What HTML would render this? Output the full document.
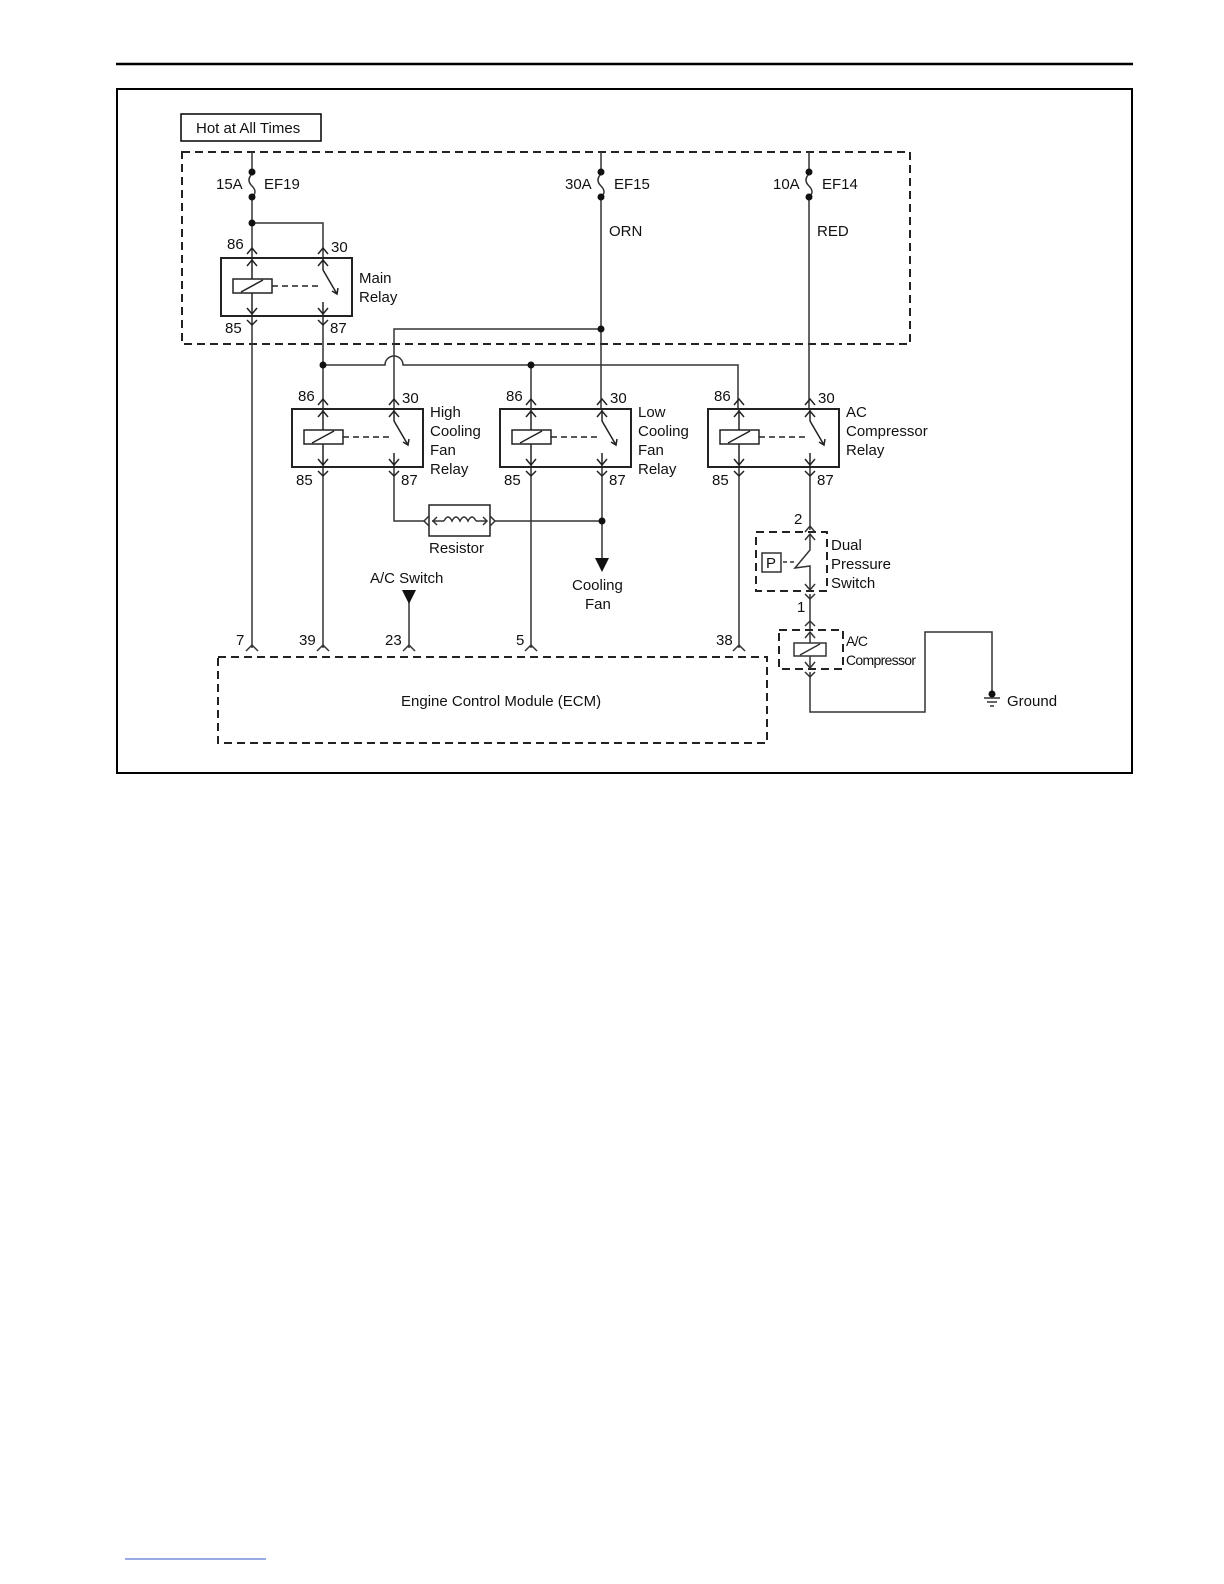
<!DOCTYPE html>
<html><head><meta charset="utf-8"><style>
html,body{margin:0;padding:0;background:#fff;width:1224px;height:1584px;overflow:hidden;}
svg{position:absolute;left:0;top:0;display:block;font-family:"Liberation Sans",Arial,sans-serif;}
text{font-size:15px;fill:#111;}
</style></head><body>
<svg width="1224" height="1584" viewBox="0 0 1224 1584" xmlns="http://www.w3.org/2000/svg">
<defs>
<g id="relay" fill="none" stroke="#222" stroke-width="1.5">
<rect x="0" y="0" width="131" height="58" stroke-width="2"/>
<line x1="31" y1="0" x2="31" y2="58"/>
<polyline points="26,8 31,2 36,8"/>
<polyline points="26,50 31,56 36,50"/>
<rect x="12" y="21" width="39" height="14" fill="#fff"/>
<line x1="20" y1="34" x2="42" y2="22"/>
<line x1="51" y1="28" x2="100" y2="28" stroke-dasharray="6,4"/>
<line x1="102" y1="0" x2="102" y2="12"/>
<polyline points="102,12 116,36"/>
<polyline points="111,33 116,36 117,30"/>
<line x1="102" y1="44" x2="102" y2="58"/>
<polyline points="26,-4 31,-10 36,-4"/>
<polyline points="97,-4 102,-10 107,-4"/>
<polyline points="97,8 102,2 107,8"/>
<polyline points="97,50 102,56 107,50"/>
<polyline points="26,62 31,67 36,62"/>
<polyline points="97,62 102,67 107,62"/>
</g>
</defs>
<line x1="116" y1="64" x2="1133" y2="64" stroke="#000" stroke-width="2.5"/>
<rect x="117" y="89" width="1015" height="684" fill="none" stroke="#000" stroke-width="2"/>
<rect x="181" y="114" width="140" height="27" fill="none" stroke="#000" stroke-width="1.5"/>
<text x="196" y="133">Hot at All Times</text>
<g fill="none" stroke="#222" stroke-width="2" stroke-dasharray="8,5">
<rect x="182" y="152" width="728" height="192"/>
<rect x="218" y="657" width="549" height="86"/>
<rect x="756" y="532" width="71" height="59"/>
<rect x="779" y="630" width="64" height="39"/>
</g>
<g fill="none" stroke="#333" stroke-width="1.5">
<line x1="252" y1="152" x2="252" y2="172"/><path d="M252,174 q-6,6 0,12 q6,6 0,11"/>
<line x1="601" y1="152" x2="601" y2="172"/><path d="M601,174 q-6,6 0,12 q6,6 0,11"/>
<line x1="809" y1="152" x2="809" y2="172"/><path d="M809,174 q-6,6 0,12 q6,6 0,11"/>
<line x1="252" y1="197" x2="252" y2="258"/>
<polyline points="252,223 323,223 323,258"/>
<line x1="252" y1="316" x2="252" y2="648"/>
<line x1="323" y1="316" x2="323" y2="409"/>
<line x1="601" y1="197" x2="601" y2="409"/>
<polyline points="601,329 394,329 394,409"/>
<path d="M323,365 H385 A9,9 0 0 1 403,365 H738 V409"/>
<line x1="531" y1="365" x2="531" y2="409"/>
<line x1="809" y1="197" x2="809" y2="409"/>
<line x1="323" y1="467" x2="323" y2="648"/>
<polyline points="394,467 394,521 425,521"/>
<line x1="495" y1="521" x2="602" y2="521"/>
<line x1="602" y1="467" x2="602" y2="560"/>
<line x1="531" y1="467" x2="531" y2="648"/>
<line x1="739" y1="467" x2="739" y2="648"/>
<line x1="409" y1="600" x2="409" y2="648"/>
<rect x="429" y="505" width="61" height="31" stroke="#222"/>
<polyline points="429,516 424,521 429,526"/><polyline points="490,516 495,521 490,526"/>
<line x1="432" y1="521" x2="444" y2="521"/><line x1="476" y1="521" x2="487" y2="521"/>
<polyline points="437,517 433,521 437,525"/><polyline points="483,517 487,521 483,525"/>
<path d="M444,521 q4,-8 8,0 q4,-8 8,0 q4,-8 8,0 q4,-8 8,0"/>
<line x1="810" y1="467" x2="810" y2="530"/>
<polyline points="805,532 810,526 815,532"/>
<polyline points="805,540 810,534 815,540"/>
<polyline points="810,534 810,550 795,568 810,566 810,590"/>
<line x1="783" y1="562" x2="795" y2="562" stroke-dasharray="4,3"/>
<rect x="762" y="553" width="19" height="19"/>
<polyline points="805,584 810,590 815,584"/>
<polyline points="805,594 810,599 815,594"/>
<line x1="810" y1="594" x2="810" y2="630"/>
<polyline points="805,626 810,621 815,626"/>
<polyline points="805,638 810,632 815,638"/>
<line x1="810" y1="632" x2="810" y2="669"/>
<rect x="794" y="643" width="32" height="13" fill="#fff"/>
<line x1="800" y1="655" x2="820" y2="644"/>
<polyline points="805,662 810,668 815,662"/>
<polyline points="805,672 810,677 815,672"/>
<polyline points="810,672 810,712 925,712 925,632 992,632 992,696"/>
<line x1="984" y1="698" x2="1000" y2="698"/><line x1="987" y1="702" x2="997" y2="702"/><line x1="990" y1="706" x2="994" y2="706"/>
<polyline points="246,651 252,645 258,651"/>
<polyline points="317,651 323,645 329,651"/>
<polyline points="403,651 409,645 415,651"/>
<polyline points="525,651 531,645 537,651"/>
<polyline points="733,651 739,645 745,651"/>
</g>
<g fill="#111">
<circle cx="252" cy="172" r="3.5"/><circle cx="252" cy="197" r="3.5"/>
<circle cx="601" cy="172" r="3.5"/><circle cx="601" cy="197" r="3.5"/>
<circle cx="809" cy="172" r="3.5"/><circle cx="809" cy="197" r="3.5"/>
<circle cx="252" cy="223" r="3.5"/><circle cx="601" cy="329" r="3.5"/>
<circle cx="323" cy="365" r="3.5"/><circle cx="531" cy="365" r="3.5"/>
<circle cx="602" cy="521" r="3.5"/><circle cx="992" cy="694" r="3.5"/>
<polygon points="595,558 609,558 602,572"/>
<polygon points="402,590 416,590 409,604"/>
</g>
<use href="#relay" x="221" y="258"/>
<use href="#relay" x="292" y="409"/>
<use href="#relay" x="500" y="409"/>
<use href="#relay" x="708" y="409"/>
<text x="216" y="189">15A</text><text x="264" y="189">EF19</text>
<text x="565" y="189">30A</text><text x="614" y="189">EF15</text>
<text x="773" y="189">10A</text><text x="822" y="189">EF14</text>
<text x="609" y="236">ORN</text><text x="817" y="236">RED</text>
<text x="227" y="249">86</text><text x="331" y="252">30</text>
<text x="359" y="283">Main</text><text x="359" y="302">Relay</text>
<text x="225" y="333">85</text><text x="330" y="333">87</text>
<text x="298" y="401">86</text><text x="402" y="403">30</text>
<text x="430" y="417">High</text><text x="430" y="436">Cooling</text><text x="430" y="455">Fan</text><text x="430" y="474">Relay</text>
<text x="296" y="485">85</text><text x="401" y="485">87</text>
<text x="506" y="401">86</text><text x="610" y="403">30</text>
<text x="638" y="417">Low</text><text x="638" y="436">Cooling</text><text x="638" y="455">Fan</text><text x="638" y="474">Relay</text>
<text x="504" y="485">85</text><text x="609" y="485">87</text>
<text x="714" y="401">86</text><text x="818" y="403">30</text>
<text x="846" y="417">AC</text><text x="846" y="436">Compressor</text><text x="846" y="455">Relay</text>
<text x="712" y="485">85</text><text x="817" y="485">87</text>
<text x="429" y="553">Resistor</text>
<text x="370" y="583">A/C Switch</text>
<text x="572" y="590">Cooling</text><text x="585" y="609">Fan</text>
<text x="794" y="524">2</text>
<text x="831" y="550">Dual</text><text x="831" y="569">Pressure</text><text x="831" y="588">Switch</text>
<text x="766" y="568">P</text>
<text x="797" y="612">1</text>
<text x="846" y="646" style="font-size:14px" textLength="22">A/C</text>
<text x="846" y="665" style="font-size:14px" textLength="70">Compressor</text>
<text x="1007" y="706">Ground</text>
<text x="236" y="645">7</text><text x="299" y="645">39</text><text x="385" y="645">23</text>
<text x="516" y="645">5</text><text x="716" y="645">38</text>
<text x="401" y="706">Engine Control Module (ECM)</text>
<line x1="125" y1="1559" x2="266" y2="1559" stroke="#3355cc" stroke-width="1"/>
</svg>
</body></html>
